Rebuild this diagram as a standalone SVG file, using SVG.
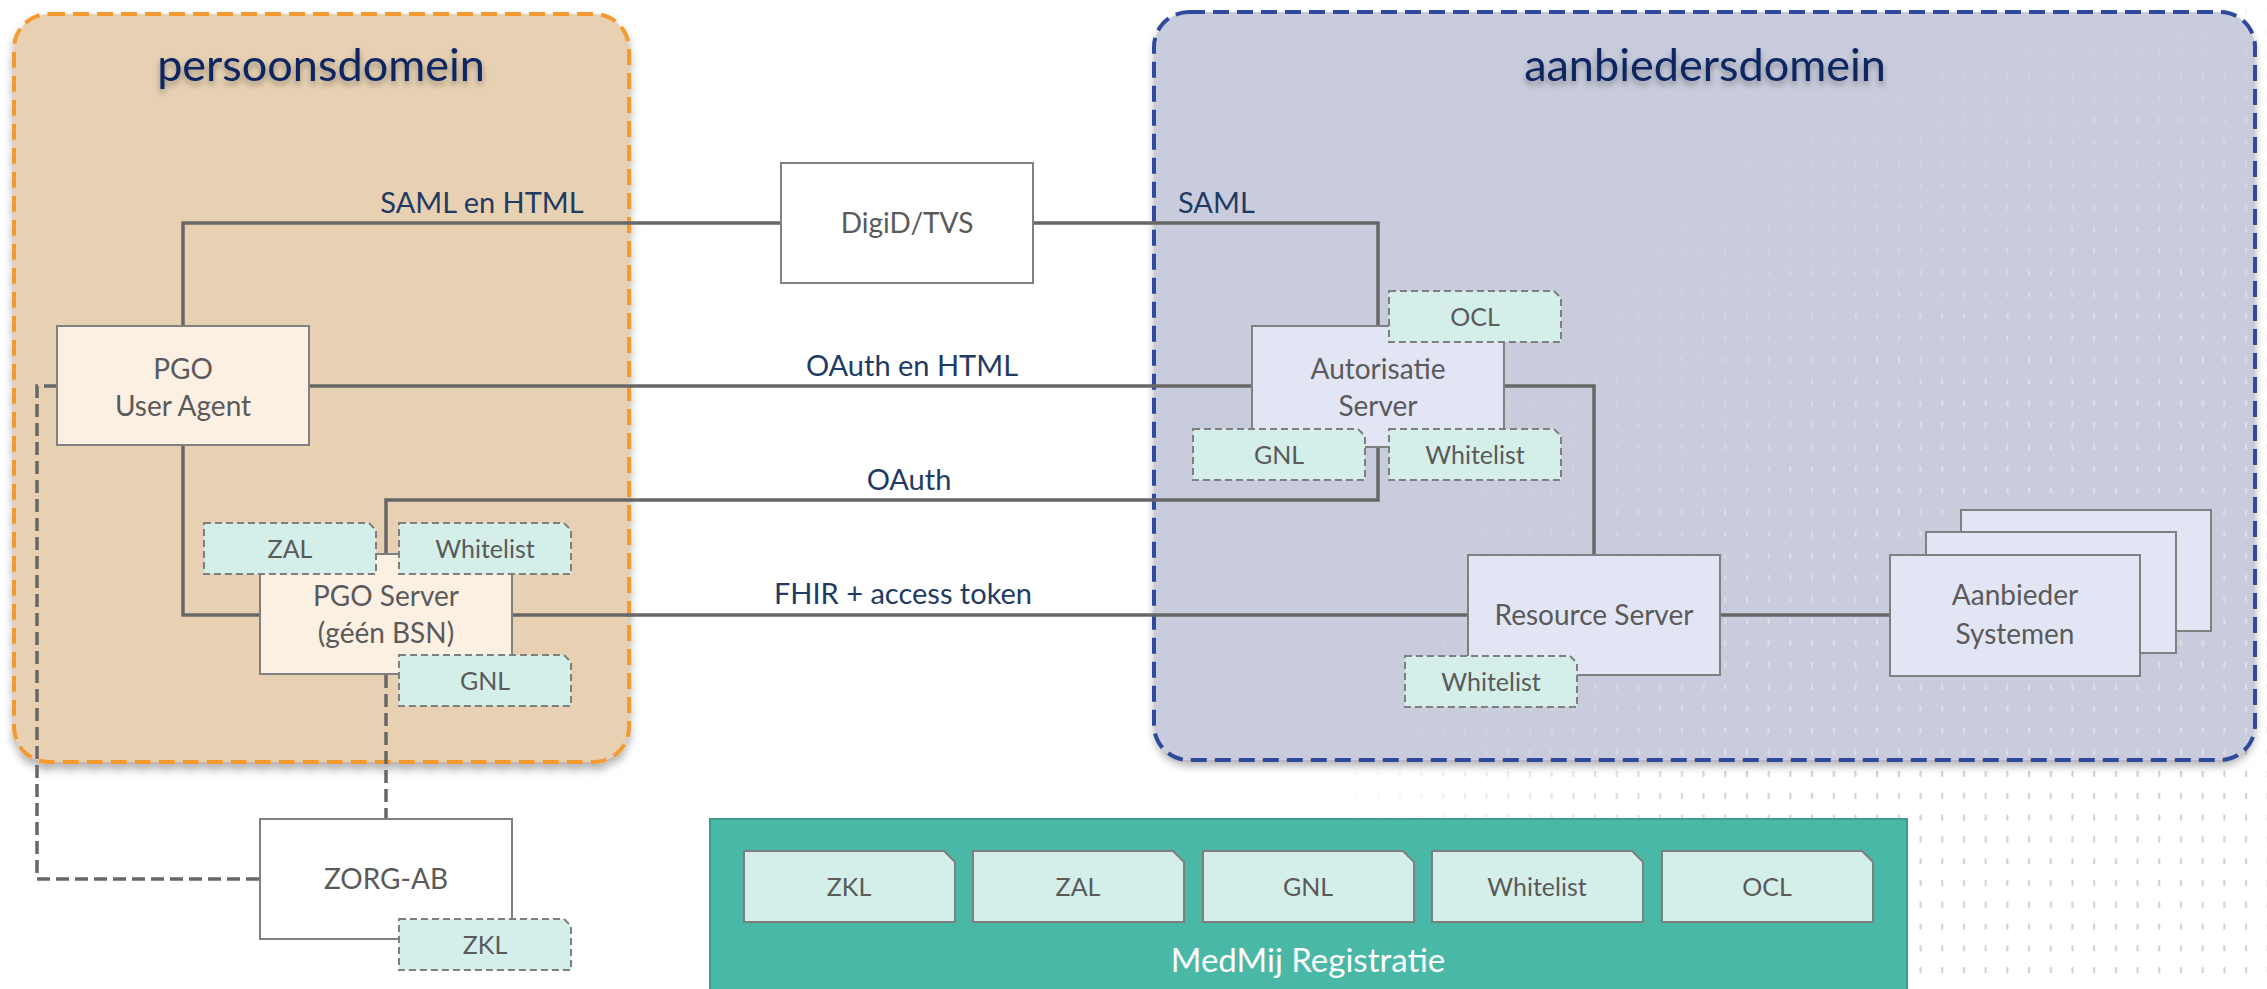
<svg xmlns="http://www.w3.org/2000/svg" xmlns:xlink="http://www.w3.org/1999/xlink" width="2267" height="989" viewBox="0 0 2267 989">
<defs>
<style>
.node{stroke:#808080;stroke-width:2}
.cream{fill:#FCF0E3}
.lav{fill:#E2E5F4}
.white{fill:#FFFFFF}
.tag{fill:#D4EFEA;stroke:#7F7F7F;stroke-width:2;stroke-dasharray:7 4}
.tagL{fill:#D4EFEA;stroke:#7F7F7F;stroke-width:2}
.nt{font-family:Lato,"Open Sans",sans-serif;font-size:28px;fill:#5A5A5A;text-anchor:middle}
.tt{font-family:Lato,"Open Sans",sans-serif;font-size:25px;fill:#5A5A5A;text-anchor:middle}
.lbl{font-family:Lato,"Open Sans",sans-serif;font-size:29px;fill:#1F3B63}
.title{font-family:Lato,"Open Sans",sans-serif;font-size:45px;fill:#0B2562;text-anchor:middle}
.conn{fill:none;stroke:#676767;stroke-width:3.5}
.dash{fill:none;stroke:#676767;stroke-width:3.5;stroke-dasharray:13 6}
</style>
<path id="tagS" d="M0,0 H165 L172,7 V51 H0 Z"/>
<path id="tagB" d="M0,0 H200 L211,11 V71 H0 Z"/>
<filter id="shadow" x="-5%" y="-5%" width="110%" height="115%">
<feDropShadow dx="0" dy="6" stdDeviation="4" flood-color="#000" flood-opacity="0.3"/>
</filter>
<filter id="tshadow" x="-10%" y="-20%" width="120%" height="160%">
<feDropShadow dx="0" dy="4" stdDeviation="3" flood-color="#000" flood-opacity="0.35"/>
</filter>
<pattern id="dotsOut" width="21.7" height="21.8" patternUnits="userSpaceOnUse">
<rect x="10" y="8" width="2" height="6" fill="#CFCFCF"/>
</pattern>
<pattern id="dotsIn" width="21.7" height="21.8" patternUnits="userSpaceOnUse">
<rect x="10" y="8" width="2" height="6" fill="#DCDFEB"/>
</pattern>
<radialGradient id="fadeGrad" cx="2300" cy="900" r="1050" gradientUnits="userSpaceOnUse">
<stop offset="0" stop-color="#fff"/>
<stop offset="0.55" stop-color="#fff"/>
<stop offset="0.95" stop-color="#000"/>
<stop offset="1" stop-color="#000"/>
</radialGradient>
<mask id="fade"><rect x="0" y="0" width="2267" height="989" fill="url(#fadeGrad)"/></mask>
<clipPath id="aClip"><rect x="1154" y="12" width="1101" height="748" rx="35"/></clipPath>
</defs>

<rect x="0" y="0" width="2267" height="989" fill="#FFFFFF"/>
<rect x="1100" y="0" width="1167" height="989" fill="url(#dotsOut)" mask="url(#fade)"/>

<g id="persoonsdomein">
<rect x="14" y="14" width="615" height="748" rx="35" fill="#E8D1B2" stroke="#F39A33" stroke-width="4" stroke-dasharray="16 8" filter="url(#shadow)"/>
<text class="title" x="321" y="81" filter="url(#tshadow)">persoonsdomein</text>
</g>

<g id="aanbiedersdomein">
<rect x="1154" y="12" width="1101" height="748" rx="35" fill="#C9CCDC" filter="url(#shadow)"/>
<g clip-path="url(#aClip)"><rect x="1154" y="12" width="1101" height="748" fill="url(#dotsIn)" mask="url(#fade)"/></g>
<rect x="1154" y="12" width="1101" height="748" rx="35" fill="none" stroke="#2F4A9C" stroke-width="4" stroke-dasharray="16 8"/>
<text class="title" x="1705" y="81" filter="url(#tshadow)">aanbiedersdomein</text>
</g>

<g id="medmij-registratie">
<rect x="710" y="819" width="1197" height="180" fill="#4AB8A6" stroke="#3C9E8E" stroke-width="2"/>
<use href="#tagB" x="744" y="851" class="tagL"/>
<text class="tt" x="849" y="896">ZKL</text>
<use href="#tagB" x="973" y="851" class="tagL"/>
<text class="tt" x="1078" y="896">ZAL</text>
<use href="#tagB" x="1203" y="851" class="tagL"/>
<text class="tt" x="1308" y="896">GNL</text>
<use href="#tagB" x="1432" y="851" class="tagL"/>
<text class="tt" x="1537" y="896">Whitelist</text>
<use href="#tagB" x="1662" y="851" class="tagL"/>
<text class="tt" x="1767" y="896">OCL</text>
<text x="1308" y="972" font-family="Lato,'Open Sans',sans-serif" font-size="33" fill="#FFFFFF" text-anchor="middle">MedMij Registratie</text>
</g>

<g id="connectors">
<path class="conn" d="M183,326 V223 H781"/>
<path class="conn" d="M1033,223 H1378 V326"/>
<path class="conn" d="M309,386 H1252"/>
<path class="conn" d="M1504,386 H1594 V555"/>
<path class="conn" d="M386,554 V500 H1378 V447"/>
<path class="conn" d="M183,445 V615 H260"/>
<path class="conn" d="M512,615 H1468"/>
<path class="conn" d="M1720,615 H1890"/>
<path class="dash" d="M57,386 H37 V879 H260"/>
<path class="dash" d="M386,675 V819"/>
<text class="lbl" x="482" y="213" text-anchor="middle">SAML en HTML</text>
<text class="lbl" x="1178" y="213">SAML</text>
<text class="lbl" x="912" y="376" text-anchor="middle">OAuth en HTML</text>
<text class="lbl" x="909" y="490" text-anchor="middle">OAuth</text>
<text class="lbl" x="903" y="604" text-anchor="middle">FHIR + access token</text>
</g>

<g id="digid-tvs">
<rect class="node white" x="781" y="163" width="252" height="120"/>
<text class="nt" x="907" y="233">DigiD/TVS</text>
</g>

<g id="pgo-user-agent">
<rect class="node cream" x="57" y="326" width="252" height="119"/>
<text class="nt" x="183" y="379">PGO</text>
<text class="nt" x="183" y="416">User Agent</text>
</g>

<g id="pgo-server">
<rect class="node cream" x="260" y="554" width="252" height="120"/>
<text class="nt" x="386" y="606">PGO Server</text>
<text class="nt" x="386" y="643">(géén BSN)</text>
<use href="#tagS" x="204" y="523" class="tag"/>
<text class="tt" x="290" y="558">ZAL</text>
<use href="#tagS" x="399" y="523" class="tag"/>
<text class="tt" x="485" y="558">Whitelist</text>
<use href="#tagS" x="399" y="655" class="tag"/>
<text class="tt" x="485" y="690">GNL</text>
</g>

<g id="zorg-ab">
<rect class="node white" x="260" y="819" width="252" height="120"/>
<text class="nt" x="386" y="889">ZORG-AB</text>
<use href="#tagS" x="399" y="919" class="tag"/>
<text class="tt" x="485" y="954">ZKL</text>
</g>

<g id="autorisatie-server">
<rect class="node lav" x="1252" y="326" width="252" height="121"/>
<text class="nt" x="1378" y="379">Autorisatie</text>
<text class="nt" x="1378" y="416">Server</text>
<use href="#tagS" x="1389" y="291" class="tag"/>
<text class="tt" x="1475" y="326">OCL</text>
<use href="#tagS" x="1193" y="429" class="tag"/>
<text class="tt" x="1279" y="464">GNL</text>
<use href="#tagS" x="1389" y="429" class="tag"/>
<text class="tt" x="1475" y="464">Whitelist</text>
</g>

<g id="resource-server">
<rect class="node lav" x="1468" y="555" width="252" height="120"/>
<text class="nt" x="1594" y="625">Resource Server</text>
<use href="#tagS" x="1405" y="656" class="tag"/>
<text class="tt" x="1491" y="691">Whitelist</text>
</g>

<g id="aanbieder-systemen">
<rect class="node lav" x="1961" y="510" width="250" height="121"/>
<rect class="node lav" x="1926" y="532" width="250" height="121"/>
<rect class="node lav" x="1890" y="555" width="250" height="121"/>
<text class="nt" x="2015" y="605">Aanbieder</text>
<text class="nt" x="2015" y="644">Systemen</text>
</g>
</svg>
